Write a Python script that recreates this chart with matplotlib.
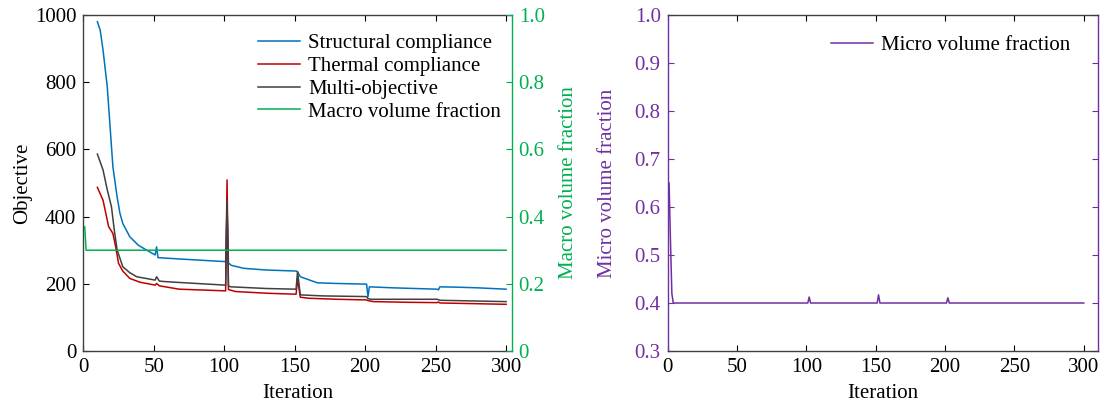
import matplotlib

matplotlib.use("Agg")
import matplotlib.pyplot as plt

plt.rcParams["font.family"] = ["Liberation Serif", "DejaVu Serif"]
plt.rcParams["font.size"] = 15

# structural compliance (iteration, value)
sc_it = [10, 12, 14, 17, 19, 21, 24, 26, 28, 33, 39, 45, 51, 52, 53, 60, 80, 101,
         102, 103, 105, 114, 130, 151, 152, 154, 160, 166, 180, 201, 202, 203,
         220, 251, 252, 253, 265, 280, 300]
sc_val = [980, 955, 896, 787, 668, 549, 459, 410, 380, 340, 315, 300, 286, 310, 278,
          276, 271, 266, 430, 262, 255, 246, 241, 238, 236, 221, 212, 203, 201, 199,
          162, 191, 188, 184, 182, 191, 190, 188, 184]

# thermal compliance
tc_it = [10, 14, 18, 21, 23, 25, 28, 33, 40, 51, 52, 54, 68, 101, 102, 103, 108,
         130, 151, 152, 154, 160, 180, 201, 202, 206, 230, 251, 252, 253, 300]
tc_val = [487, 449, 370, 350, 310, 261, 238, 216, 205, 196, 201, 194, 184, 179, 509,
          183, 177, 172, 169, 215, 160, 157, 154, 152, 150, 147, 145, 144, 146, 143, 139]

# multi-objective
mo_it = [10, 14, 17, 20, 22, 24, 28, 33, 38, 51, 52, 54, 60, 101, 102, 103, 105,
         130, 151, 152, 154, 170, 201, 202, 204, 230, 251, 252, 253, 300]
mo_val = [586, 539, 480, 429, 360, 301, 251, 233, 221, 211, 221, 208, 206, 196, 449,
          193, 191, 186, 184, 236, 167, 164, 162, 156, 154, 154, 154, 153, 151, 147]

# macro volume fraction
macro_it = [1, 2, 300]
macro_val = [0.37, 0.30, 0.30]

# micro volume fraction
micro_it = [1, 2, 3, 4, 101, 102, 103, 151, 152, 153, 201, 202, 203, 300]
micro_val = [0.65, 0.53, 0.42, 0.40, 0.40, 0.4125, 0.40, 0.40, 0.417, 0.40, 0.40,
             0.411, 0.40, 0.40]

blue = "#0072BD"
red = "#C00000"
dark = "#404040"
green = "#00B050"
purple = "#7030A0"

fig = plt.figure(figsize=(11.06, 4.03), dpi=100)
ax1 = fig.add_axes([0.0753, 0.129, 0.3874, 0.8338])
ax2 = ax1.twinx()
ax3 = fig.add_axes([0.6037, 0.129, 0.3888, 0.8338])

lw = 1.1
l1, = ax1.plot(sc_it, sc_val, color=blue, lw=lw, label="Structural compliance")
l2, = ax1.plot(tc_it, tc_val, color=red, lw=lw, label="Thermal compliance")
l3, = ax1.plot(mo_it, mo_val, color=dark, lw=lw, label="Multi-objective")
l4, = ax2.plot(macro_it, macro_val, color=green, lw=lw, label="Macro volume fraction")

ax1.set_xlim(0, 304)
ax1.set_ylim(0, 1000)
ax2.set_ylim(0, 1)
ax1.set_xticks([0, 50, 100, 150, 200, 250, 300])
ax1.set_yticks([0, 200, 400, 600, 800, 1000])
ax2.set_yticks([0, 0.2, 0.4, 0.6, 0.8, 1.0])
ax2.set_yticklabels(["0", "0.2", "0.4", "0.6", "0.8", "1.0"])
ax1.set_xlabel("Iteration", labelpad=5)
ax1.set_ylabel("Objective", labelpad=2)
ax2.set_ylabel("Macro volume fraction", color=green, labelpad=10)

ax1.tick_params(direction="in", length=4, top=True, right=False, colors="black", pad=5)
ax2.tick_params(direction="in", length=4, colors=green, pad=5)
for s in ["left", "top", "bottom"]:
    ax1.spines[s].set_color(dark)
    ax2.spines[s].set_visible(False)
ax1.spines["right"].set_visible(False)
ax2.spines["right"].set_color(green)
for a in (ax1, ax2, ax3):
    for s in a.spines.values():
        s.set_linewidth(1.0)

ax1.legend(handles=[l1, l2, l3, l4], loc="upper right", frameon=False, fontsize=15,
           labelspacing=0.15, handlelength=2.0, handletextpad=0.4,
           borderaxespad=0.1, bbox_to_anchor=(1.0, 0.975))

ax3.plot(micro_it, micro_val, color=purple, lw=lw, label="Micro volume fraction")
ax3.set_xlim(0, 310)
ax3.set_ylim(0.3, 1.0)
ax3.set_xticks([0, 50, 100, 150, 200, 250, 300])
ax3.set_yticks([0.3, 0.4, 0.5, 0.6, 0.7, 0.8, 0.9, 1.0])
ax3.set_yticklabels(["0.3", "0.4", "0.5", "0.6", "0.7", "0.8", "0.9", "1.0"])
ax3.set_xlabel("Iteration", labelpad=5)
ax3.set_ylabel("Micro volume fraction", color=purple, labelpad=13)
ax3.tick_params(axis="x", direction="in", length=4, top=True, colors="black", pad=5)
ax3.tick_params(axis="y", direction="in", length=4, right=True, colors=purple, pad=5)
ax3.spines["left"].set_color(purple)
ax3.spines["right"].set_color(purple)
ax3.spines["top"].set_color(dark)
ax3.spines["bottom"].set_color(dark)
ax3.legend(loc="upper right", frameon=False, fontsize=15, handlelength=2.0,
           handletextpad=0.4, borderaxespad=0.1, bbox_to_anchor=(0.96, 0.97))

fig.savefig("out.png", dpi=100)
